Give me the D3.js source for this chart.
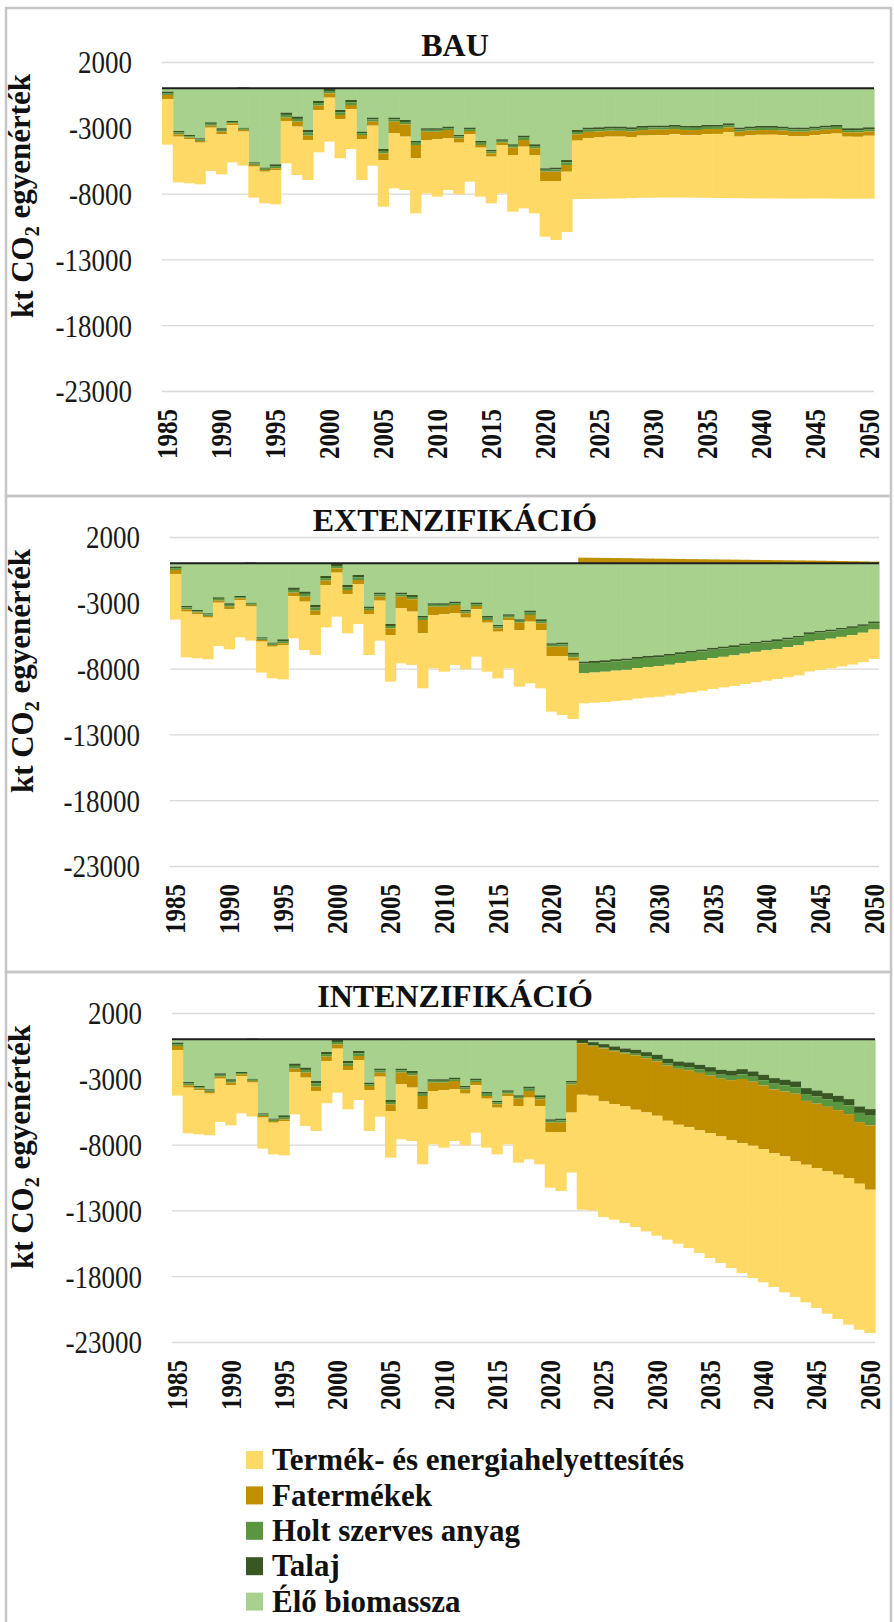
<!DOCTYPE html>
<html><head><meta charset="utf-8">
<script src="https://cdn.jsdelivr.net/npm/d3@7"></script>
<style>body{margin:0;background:#fff} svg{display:block}</style>
</head><body><svg id="chart" width="894" height="1622"></svg>
<script>
// ---------- DATA ----------
const years = d3.range(1985, 2051);
const yearTicks = [1985,1990,1995,2000,2005,2010,2015,2020,2025,2030,2035,2040,2045,2050];
const yTicks = [2000,-3000,-8000,-13000,-18000,-23000];
const titles = ["BAU","EXTENZIFIKÁCIÓ","INTENZIFIKÁCIÓ"];
const legendNames = ["Termék- és energiahelyettesítés","Fatermékek","Holt szerves anyag","Talaj","Élő biomassza"];
const keys = ["elo","talaj","holt","fater","termek"]; // stacking order from zero outward
const colors = {termek:"#FFD966", fater:"#BF8F00", holt:"#5A9640", talaj:"#385723", elo:"#A9D18E"};

// historical 1985-2021 (common to all scenarios)
const histElo   = [-250,-3242,-3546,-3799,-2584,-3040,-2482,-2989,-5623,-6028,-5775,-1849,-2153,-3166,-962,-51,-1646,-887,-3293,-2229,-4610,-2229,-2406,-4002,-3040,-3040,-2913,-3546,-2989,-4002,-4686,-3875,-4255,-3597,-4255,-6079,-6028];
const histTalaj = [-115,-115,-90,-90,-115,-115,-80,60,-90,-80,-135,-170,-170,-195,-160,-150,-170,-170,-115,-135,-150,-135,-150,-135,-115,-115,-115,-115,-115,-135,-115,-115,-115,-150,-135,-115,-135];
const histHolt  = [-140,-140,-110,-110,-140,-140,-100,-170,-110,-100,-170,-210,-210,-235,-195,-180,-210,-210,-140,-170,-180,-170,-180,-170,-140,-140,-140,-140,-140,-170,-140,-140,-140,-180,-170,-140,-170];
const histFater = [-304,-177,-127,-127,-152,-203,-127,-127,-127,-127,-127,-253,-380,-329,-329,-329,-304,-304,-304,-304,-507,-887,-937,-1013,-633,-583,-633,-329,-253,-203,-253,-177,-557,-507,-507,-709,-709];
const histTermek= [-3470,-3470,-3343,-3166,-3293,-3040,-2837,-2584,-2356,-2406,-2609,-3217,-3673,-3040,-3217,-3343,-2989,-3040,-3115,-3040,-3546,-4179,-4053,-4179,-4053,-4357,-3926,-3926,-3597,-3723,-3546,-3673,-4306,-4686,-4433,-4230,-4483];

// scenarios 2022-2050
const bauElo   = [-5450,-3166,-2989,-2964,-2913,-2913,-2964,-2862,-2837,-2837,-2786,-2862,-2862,-2786,-2786,-2660,-2989,-2913,-2862,-2862,-2913,-2989,-2989,-2913,-2837,-2786,-3040,-3040,-2964];
const bauTalaj = [-170,-150,-145,-140,-140,-145,-140,-140,-135,-140,-140,-135,-140,-140,-135,-140,-140,-135,-140,-140,-135,-140,-140,-135,-140,-140,-135,-140,-140];
const bauHolt  = [-210,-180,-175,-170,-170,-175,-170,-170,-165,-170,-170,-165,-170,-170,-165,-170,-170,-165,-170,-170,-165,-170,-170,-165,-170,-170,-165,-170,-170];
const bauFater = [-507,-480,-470,-460,-450,-440,-430,-420,-415,-410,-400,-395,-390,-385,-380,-375,-370,-365,-360,-355,-350,-350,-345,-345,-340,-340,-335,-335,-330];
const bauTermek= [-4585,-4444,-4621,-4656,-4707,-4697,-4636,-4728,-4758,-4743,-4804,-4743,-4748,-4839,-4864,-4995,-4681,-4782,-4828,-4843,-4807,-4731,-4736,-4812,-4883,-4944,-4715,-4705,-4786];

const extElo   = [-6800,-7468,-7418,-7367,-7291,-7241,-7114,-7038,-6987,-6886,-6759,-6658,-6557,-6430,-6329,-6228,-6101,-5975,-5873,-5772,-5646,-5519,-5241,-5139,-5038,-4911,-4785,-4633,-4420];
const extTalaj = [-150,-152,-150,-148,-147,-146,-145,-144,-143,-142,-140,-139,-138,-137,-136,-135,-134,-133,-132,-131,-130,-129,-128,-127,-126,-125,-124,-122,-120];
const extHolt  = [-200,-740,-735,-725,-720,-712,-700,-695,-688,-680,-672,-665,-660,-650,-642,-636,-628,-620,-612,-605,-598,-590,-580,-572,-565,-555,-545,-520,-490];
const extFater = [-250,430,420,410,400,390,375,365,355,345,335,320,310,300,290,280,270,260,250,240,230,220,210,200,190,175,160,145,130];
const extTermek= [-4430,-2280,-2290,-2300,-2300,-2310,-2310,-2320,-2320,-2330,-2330,-2340,-2330,-2330,-2320,-2320,-2310,-2300,-2300,-2290,-2280,-2280,-2270,-2260,-2250,-2250,-2240,-2235,-2230];

const intElo   = [-3165,-40,-215,-367,-544,-696,-797,-975,-1177,-1481,-1684,-1759,-1937,-2114,-2316,-2392,-2266,-2443,-2696,-2949,-3076,-3203,-3709,-3886,-4089,-4291,-4544,-5101,-5304];
const intTalaj = [-120,-250,-260,-270,-280,-290,-300,-310,-320,-330,-340,-350,-355,-360,-370,-380,-390,-400,-410,-420,-430,-440,-450,-455,-460,-470,-480,-490,-500];
const intHolt  = [-150,-20,-40,-60,-80,-100,-120,-150,-170,-190,-220,-240,-260,-290,-310,-330,-360,-380,-410,-440,-460,-490,-520,-550,-580,-620,-660,-700,-740];
const intFater = [-2135,-3905,-3776,-4025,-4020,-4015,-4137,-4122,-4143,-4189,-4250,-4322,-4372,-4363,-4384,-4582,-4870,-4866,-4826,-4837,-4933,-5145,-4853,-4894,-4909,-4910,-4860,-4684,-4886];
const intTermek= [-4557,-8734,-8734,-8784,-8785,-8861,-8912,-9038,-9114,-9038,-9038,-9190,-9317,-9493,-9620,-9696,-9873,-10050,-10126,-10177,-10329,-10304,-10455,-10633,-10810,-10962,-11140,-11088,-10886];

function buildRows(elo, talaj, holt, fater, termek){
  const E = histElo.concat(elo), T = histTalaj.concat(talaj), Ho = histHolt.concat(holt),
        F = histFater.concat(fater), P = histTermek.concat(termek);
  return years.map((y,i)=>({year:y, elo:E[i], talaj:T[i], holt:Ho[i], fater:F[i], termek:P[i]}));
}
const scenarios = [
  buildRows(bauElo,bauTalaj,bauHolt,bauFater,bauTermek),
  buildRows(extElo,extTalaj,extHolt,extFater,extTermek),
  buildRows(intElo,intTalaj,intHolt,intFater,intTermek)
];

// ---------- LAYOUT ----------
const layout = [
  {fTop:8,   fBot:496,  gTop:62,   x0:162, x1:874},
  {fTop:496, fBot:972,  gTop:537,  x0:170, x1:879},
  {fTop:972, fBot:1660, gTop:1013, x0:172, x1:875}
];
const serif = "'Liberation Serif','Times New Roman',serif";
const svg = d3.select("#chart");

layout.forEach((L, p) => {
  const g = svg.append("g");
  const gBot = L.gTop + 329;
  const y = d3.scaleLinear().domain([-23000, 2000]).range([gBot, L.gTop]);
  const x = d3.scaleBand().domain(years).range([L.x0, L.x1]).padding(0);
  const bw = x.bandwidth();

  // frame
  g.append("rect").attr("x",6).attr("y",L.fTop).attr("width",885).attr("height",L.fBot-L.fTop)
    .attr("fill","none").attr("stroke","#c6c6c6").attr("stroke-width",2.5);

  // title
  g.append("text").attr("x",455).attr("y",L.gTop-6).attr("text-anchor","middle")
    .attr("font-family",serif).attr("font-weight","bold").attr("font-size",32).attr("fill","#111")
    .text(titles[p]);

  // gridlines
  const yAxis = d3.axisLeft(y).tickValues(yTicks).tickSize(-(L.x1-L.x0)).tickFormat("");
  const ga = g.append("g").attr("transform",`translate(${L.x0},0)`).call(yAxis);
  ga.select(".domain").remove();
  ga.selectAll(".tick line").attr("stroke","#d9d9d9").attr("stroke-width",1.3);
  // y tick labels (plain hyphen minus as in the original)
  g.append("g").selectAll("text").data(yTicks).join("text")
    .attr("transform", d => `translate(${L.x0-30},${y(d)}) scale(1,1.2)`)
    .attr("text-anchor","end").attr("dy","0.35em")
    .attr("font-family",serif).attr("font-size",27).attr("fill","#1a1a1a")
    .text(d => String(d));

  // stacked bars
  const stack = d3.stack().keys(keys).offset(d3.stackOffsetDiverging);
  const series = stack(scenarios[p]);
  g.append("g").selectAll("g").data(series).join("g")
    .attr("fill", s => colors[s.key])
    .selectAll("rect").data(s => s).join("rect")
    .attr("x", d => x(d.data.year))
    .attr("width", bw + 0.6)
    .attr("y", d => y(Math.max(d[0], d[1])))
    .attr("height", d => Math.abs(y(d[0]) - y(d[1])));

  // zero line
  g.append("line").attr("x1",L.x0).attr("x2",L.x1).attr("y1",y(0)).attr("y2",y(0))
    .attr("stroke","#1e1e1e").attr("stroke-width",2);

  // year labels
  const xAxis = d3.axisBottom(x).tickValues(yearTicks).tickSize(0).tickPadding(0);
  const gx = g.append("g").attr("transform",`translate(0,${gBot+18})`).call(xAxis);
  gx.select(".domain").remove();
  gx.selectAll(".tick text")
    .attr("transform","rotate(-90) scale(1,1.15)").attr("text-anchor","end")
    .attr("x",0).attr("y",0).attr("dy","0.35em")
    .attr("font-family",serif).attr("font-weight","bold").attr("font-size",25).attr("fill","#111");

  // y axis title
  const yt = g.append("text")
    .attr("transform",`translate(22,${L.gTop+134}) rotate(-90)`)
    .attr("text-anchor","middle").attr("dy","0.35em")
    .attr("font-family",serif).attr("font-weight","bold").attr("font-size",31).attr("fill","#111");
  yt.append("tspan").text("kt CO");
  yt.append("tspan").text("2").attr("font-size",20).attr("dy","0.3em");
  yt.append("tspan").text(" egyenérték").attr("dy","-0.3em");
});

// ---------- LEGEND ----------
const legendKeys = ["termek","fater","holt","talaj","elo"];
const lg = svg.append("g");
legendKeys.forEach((k,i) => {
  const cy = 1460 + i*35.4;
  lg.append("rect").attr("x",246).attr("y",cy-9).attr("width",17).attr("height",18).attr("fill",colors[k]);
  lg.append("text").attr("x",272).attr("y",cy).attr("dy","0.33em")
    .attr("font-family",serif).attr("font-weight","bold").attr("font-size",31).attr("fill","#111")
    .text(legendNames[i]);
});
</script></body></html>
